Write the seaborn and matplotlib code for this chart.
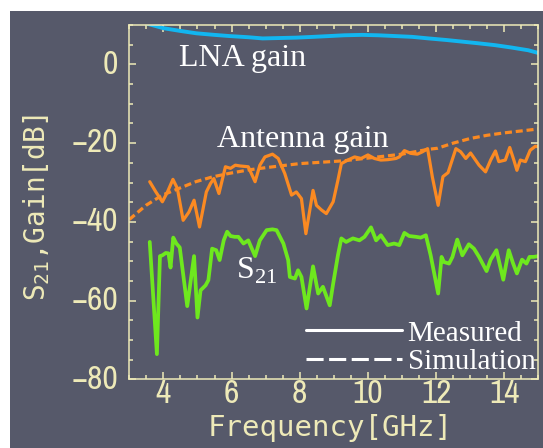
import os
import matplotlib.pyplot as plt
import matplotlib.font_manager as fm
import seaborn as sns
import pandas as pd
from matplotlib.patches import Rectangle
from matplotlib.lines import Line2D
from matplotlib.ticker import MultipleLocator
from matplotlib.transforms import ScaledTranslation

# values
lna_freq = [3.5, 4.0, 4.5, 4.97, 5.5, 5.94, 6.5, 6.91, 7.4, 7.89, 8.4, 8.86, 9.3,
            9.83, 10.3, 10.8, 11.3, 11.78, 12.3, 12.75, 13.2, 13.72, 14.2, 14.7, 15.0]
lna_gain = [10.4, 9.2, 8.5, 7.9, 7.5, 7.2, 6.9, 6.6, 6.7, 6.8, 7.0, 7.2, 7.4,
            7.5, 7.4, 7.2, 7.0, 6.6, 6.2, 5.8, 5.4, 4.9, 4.3, 3.6, 2.9]

ant_freq = [3.6, 3.78, 3.97, 4.12, 4.28, 4.41, 4.58, 4.75, 4.9, 5.06, 5.26, 5.38, 5.48,
            5.63, 5.82, 5.97, 6.11, 6.25, 6.49, 6.69, 6.83, 6.98, 7.2, 7.37, 7.56, 7.76,
            7.9, 8.05, 8.18, 8.39, 8.49, 8.64, 8.78, 8.98, 9.12, 9.22, 9.41, 9.61, 9.8,
            10.0, 10.19, 10.38, 10.58, 10.82, 10.92, 11.07, 11.26, 11.45, 11.6, 11.75,
            11.89, 12.06, 12.2, 12.35, 12.58, 12.72, 12.87, 13.01, 13.26, 13.45, 13.6,
            13.74, 13.84, 14.03, 14.16, 14.28, 14.37, 14.47, 14.62, 14.76, 14.91, 15.0]
ant_gain = [-29.8, -32.4, -34.9, -32.4, -29.2, -31.5, -39.6, -37.5, -34.5, -41.3, -32.4,
            -30.3, -29.0, -32.8, -26.0, -26.4, -25.6, -25.8, -26.0, -29.8, -25.6, -23.5,
            -22.8, -23.9, -27.7, -33.2, -32.4, -34.1, -43.0, -32.0, -35.8, -37.0, -37.9,
            -34.9, -29.4, -25.2, -24.3, -23.5, -23.9, -23.0, -23.9, -24.3, -24.2, -23.9,
            -23.5, -21.9, -22.6, -22.8, -22.2, -21.4, -28.6, -35.8, -28.5, -27.5, -21.4,
            -22.2, -23.9, -22.5, -25.6, -27.3, -24.3, -22.0, -24.7, -24.3, -21.1, -24.3,
            -26.9, -24.3, -24.7, -21.8, -20.8, -20.9]

sim_freq = [3.0, 3.49, 3.97, 4.46, 4.95, 5.43, 5.92, 6.5, 7.03, 8.0, 9.27, 10.0, 11.0,
            11.75, 12.04, 12.5, 13.01, 13.5, 13.99, 14.5, 15.0]
sim_gain = [-39.4, -35.8, -33.2, -31.5, -29.8, -28.6, -27.7, -26.8, -26.2, -25.2, -24.5,
            -23.8, -22.8, -21.6, -21.3, -20.0, -18.8, -18.0, -17.4, -16.9, -16.4]

s21_freq = [3.6, 3.81, 3.9, 3.97, 4.07, 4.15, 4.21, 4.29, 4.38, 4.48, 4.7, 4.9, 5.0, 5.09,
            5.24, 5.32, 5.43, 5.55, 5.65, 5.77, 5.87, 5.97, 6.09, 6.2, 6.35, 6.49, 6.69,
            6.83, 7.03, 7.2, 7.32, 7.52, 7.66, 7.71, 7.86, 7.95, 8.05, 8.2, 8.39, 8.54,
            8.68, 8.88, 8.98, 9.12, 9.22, 9.36, 9.56, 9.75, 9.9, 10.09, 10.24, 10.38,
            10.58, 10.77, 10.92, 11.07, 11.21, 11.41, 11.55, 11.7, 11.84, 12.06, 12.16,
            12.23, 12.38, 12.48, 12.62, 12.77, 12.96, 13.11, 13.26, 13.48, 13.6, 13.77,
            13.97, 14.13, 14.26, 14.37, 14.52, 14.65, 14.74, 14.86, 15.0]
s21_gain = [-45.1, -73.6, -48.7, -48.5, -47.9, -48.0, -51.6, -44.0, -45.5, -46.5, -61.4,
            -48.7, -64.3, -57.4, -56.1, -54.8, -46.8, -47.2, -49.7, -44.7, -42.5, -43.6,
            -43.8, -43.8, -45.5, -44.7, -48.7, -44.7, -42.1, -41.9, -42.1, -45.5, -49.7,
            -54.0, -54.4, -52.3, -54.0, -62.0, -51.3, -58.2, -56.5, -61.2, -55.7, -48.5,
            -44.2, -45.1, -44.2, -44.7, -43.8, -41.4, -44.7, -43.4, -45.9, -45.5, -45.9,
            -42.8, -43.6, -43.8, -44.0, -43.4, -48.5, -58.2, -48.9, -50.2, -50.6, -48.9,
            -44.5, -48.5, -45.7, -46.8, -48.9, -52.5, -49.6, -47.2, -54.7, -47.2, -50.6,
            -53.1, -49.6, -50.6, -48.9, -48.9, -48.7]

x_ticks = [4, 6, 8, 10, 12, 14]
y_ticks = [-80, -60, -40, -20, 0]

bg = "#56596a"
frame = "#eeeab8"
cyan = "#12b6f0"
orange = "#fb8a22"
green = "#6ee81e"


def narrow_font(size):
    # look for an installed narrow / condensed sans face for the tick numbers
    bad = ("Bold", "Italic", "Oblique", "Light", "Thin", "Medium", "Black", "Semi",
           "Extra", "Mono", "Serif", "Heavy")
    found = []
    for e in fm.fontManager.ttflist:
        base = os.path.basename(e.fname)
        tag = base + " " + e.name
        if not any(k in tag for k in ("Narrow", "Condensed")) and e.stretch not in (
                "condensed", "semi-condensed", "extra-condensed"):
            continue
        if any(b in base for b in bad) or e.style != "normal":
            continue
        rank = 0 if "Narrow" in tag else 1
        found.append((rank, base, e.fname))
    if found:
        found.sort()
        return fm.FontProperties(fname=found[0][2], size=size)
    return fm.FontProperties(family="Roboto", size=size - 2)


sns.set_theme(style="ticks")
plt.rcParams["axes.unicode_minus"] = True
plt.rcParams["font.family"] = ["DejaVu Sans"]

fig = plt.figure(figsize=(5.43, 4.48), dpi=100, facecolor="white")
fig.add_artist(Rectangle((10 / 543, 0), 1, 437 / 448, transform=fig.transFigure,
                         facecolor=bg, edgecolor="none", zorder=-5))
ax = fig.add_axes([0.2381, 0.1533, 0.7534, 0.7908])
ax.set_facecolor(bg)

lna = pd.DataFrame({"f": lna_freq, "g": lna_gain})
ant = pd.DataFrame({"f": ant_freq, "g": ant_gain})
sim = pd.DataFrame({"f": sim_freq, "g": sim_gain})
s21 = pd.DataFrame({"f": s21_freq, "g": s21_gain})

sns.lineplot(data=lna, x="f", y="g", color=cyan, lw=2.8, ax=ax, sort=False, errorbar=None)
sns.lineplot(data=sim, x="f", y="g", color=orange, lw=2.3, ax=ax, sort=False,
             errorbar=None, linestyle=(0, (2.2, 1.2)))
sns.lineplot(data=ant, x="f", y="g", color=orange, lw=2.3, ax=ax, sort=False, errorbar=None)
sns.lineplot(data=s21, x="f", y="g", color=green, lw=2.7, ax=ax, sort=False, errorbar=None)

ax.set_xlim(3, 15)
ax.set_ylim(-80, 10)
ax.set_xticks(x_ticks)
ax.set_yticks(y_ticks)
ax.xaxis.set_minor_locator(MultipleLocator(0.5))
ax.yaxis.set_minor_locator(MultipleLocator(5))
for s in ax.spines.values():
    s.set_visible(True)
    s.set_color(frame)
    s.set_linewidth(1.1)
ax.tick_params(which="both", direction="in", top=True, right=True, color=frame, width=1.1)
ax.tick_params(which="major", length=4.8)
ax.tick_params(which="minor", length=3.0)
ax.tick_params(axis="y", pad=8, labelcolor=frame)
ax.tick_params(axis="x", pad=0, labelcolor=frame)
tick_fp = narrow_font(24)
up = ScaledTranslation(0, 2 / 72, fig.dpi_scale_trans)
for lab in ax.get_xticklabels() + ax.get_yticklabels():
    lab.set_fontproperties(tick_fp)
for lab in ax.get_yticklabels():
    lab.set_transform(lab.get_transform() + up)

ax.set_xlabel("Frequency[GHz]", color=frame, fontsize=21, family="DejaVu Sans Mono")
ax.set_ylabel(r"S$_\mathregular{21}$,Gain[dB]", color=frame, fontsize=20,
              family="DejaVu Sans Mono")
ax.xaxis.set_label_coords(0.4906, -0.098)
ax.yaxis.set_label_coords(-0.19, 0.485)

serif = ["Liberation Serif", "DejaVu Serif"]
ax.text(4.45, -0.4, "LNA gain", color="white", fontsize=23, family=serif, va="baseline")
ax.text(5.56, -21.0, "Antenna gain", color="white", fontsize=23, family=serif, va="baseline")
ax.text(6.12, -54.4, r"S$_\mathregular{21}$", color="white", fontsize=23, family=serif,
        va="baseline")

handles = [Line2D([], [], color="white", lw=2.2),
           Line2D([], [], color="white", lw=2.2, linestyle=(0, (5.6, 1.8)))]
leg = ax.legend(handles, ["Measured", "Simulation"], loc="lower right",
                bbox_to_anchor=(1.0, 0.004), frameon=False, handlelength=3.3,
                handletextpad=0.2, labelspacing=0.07, borderpad=0.1, borderaxespad=0,
                prop={"family": serif, "size": 21})
for t in leg.get_texts():
    t.set_color("white")

fig.savefig("out.png", dpi=100)
